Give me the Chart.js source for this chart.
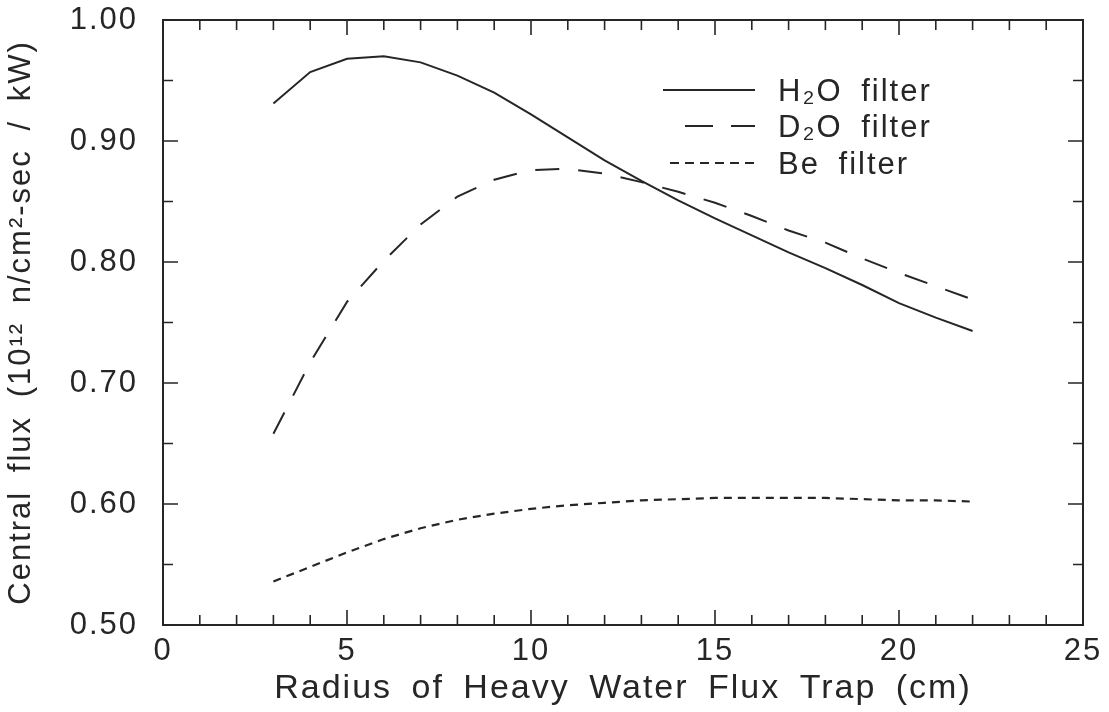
<!DOCTYPE html>
<html>
<head>
<meta charset="utf-8">
<script src="https://cdn.jsdelivr.net/npm/chart.js@4/dist/chart.umd.min.js"></script>
<style>
    html, body { margin: 0; padding: 0; background: #fff; }
</style>
</head>
<body>
<canvas id="fluxChart" width="1109" height="712"></canvas>
<script>
// 数据
const radius = [3, 4, 5, 6, 7, 8, 9, 10, 11, 12, 13, 14, 15, 16, 17, 18, 19, 20, 21, 22];
const h2oFilter = [0.931, 0.957, 0.968, 0.970, 0.965, 0.954, 0.940, 0.922, 0.903, 0.884, 0.867,
                   0.851, 0.836, 0.822, 0.808, 0.795, 0.781, 0.766, 0.754, 0.743];
const d2oFilter = [0.658, 0.717, 0.767, 0.801, 0.831, 0.854, 0.868, 0.876, 0.877, 0.873, 0.866,
                   0.858, 0.849, 0.838, 0.826, 0.816, 0.803, 0.791, 0.780, 0.769];
const beFilter  = [0.536, 0.548, 0.560, 0.571, 0.580, 0.587, 0.592, 0.596, 0.599, 0.601, 0.603,
                   0.604, 0.605, 0.605, 0.605, 0.605, 0.604, 0.603, 0.603, 0.602];
const seriesLabels = ['H₂O filter', 'D₂O filter', 'Be filter'];
const xTitle = 'Radius of Heavy Water Flux Trap (cm)';
const yTitle = 'Central flux (10¹² n/cm²-sec / kW)';

const ink = '#262626';
const fontFamily = '"Liberation Sans", Arial, sans-serif';

function toPoints(values) {
    return radius.map(function(r, i) { return { x: r, y: values[i] }; });
}

// 原图字体比较宽，加字距
const wideText = {
    id: 'wideText',
    beforeUpdate: function(chart) {
        chart.ctx.letterSpacing = '2px';
        chart.ctx.wordSpacing = '8px';
    },
    beforeDraw: function(chart) {
        chart.ctx.letterSpacing = '2px';
        chart.ctx.wordSpacing = '8px';
    }
};

// 边框和向内的刻度线
const frameTicks = {
    id: 'frameTicks',
    afterDatasetsDraw: function(chart) {
        const ctx = chart.ctx;
        const a = chart.chartArea;
        const xs = chart.scales.x;
        const ys = chart.scales.y;
        ctx.save();
        ctx.strokeStyle = ink;
        ctx.lineWidth = 2;
        ctx.strokeRect(a.left, a.top, a.right - a.left, a.bottom - a.top);
        ctx.lineWidth = 1.6;
        ctx.beginPath();
        for (let v = xs.min; v <= xs.max; v += 1) {
            const px = xs.getPixelForValue(v);
            const len = v % 5 === 0 ? 15 : 10;
            ctx.moveTo(px, a.bottom); ctx.lineTo(px, a.bottom - len);
            ctx.moveTo(px, a.top); ctx.lineTo(px, a.top + len);
        }
        for (let k = 0; k <= 10; k++) {
            const py = ys.getPixelForValue(ys.min + k * 0.05);
            const len = k % 2 === 0 ? 15 : 10;
            ctx.moveTo(a.left, py); ctx.lineTo(a.left + len, py);
            ctx.moveTo(a.right, py); ctx.lineTo(a.right - len, py);
        }
        ctx.stroke();
        ctx.restore();
    }
};

// 图内图例
const insideLegend = {
    id: 'insideLegend',
    afterDraw: function(chart) {
        const ctx = chart.ctx;
        const a = chart.chartArea;
        const x1 = a.left + 592, tx = a.left + 615;
        const rows = [a.top + 70, a.top + 106, a.top + 143];
        ctx.save();
        chart.data.datasets.forEach(function(ds, i) {
            ctx.strokeStyle = ink;
            ctx.lineWidth = 2;
            ctx.setLineDash(ds.legendDash);
            ctx.beginPath();
            ctx.moveTo(a.left + ds.legendStart, rows[i]);
            ctx.lineTo(x1, rows[i]);
            ctx.stroke();
            ctx.setLineDash([]);
            ctx.fillStyle = ink;
            ctx.font = '31px ' + fontFamily;
            ctx.textBaseline = 'middle';
            ctx.fillText(ds.label, tx, rows[i] + 2);
        });
        ctx.restore();
    }
};

new Chart(document.getElementById('fluxChart').getContext('2d'), {
    type: 'line',
    data: {
        datasets: [
            {
                label: seriesLabels[0],
                data: toPoints(h2oFilter),
                borderColor: ink,
                borderWidth: 2,
                legendDash: [],
                legendStart: 500
            },
            {
                label: seriesLabels[1],
                data: toPoints(d2oFilter),
                borderColor: ink,
                borderWidth: 2,
                borderDash: [24, 19],
                legendDash: [28, 18],
                legendStart: 522
            },
            {
                label: seriesLabels[2],
                data: toPoints(beFilter),
                borderColor: ink,
                borderWidth: 2.2,
                borderDash: [8, 6],
                legendDash: [9, 6],
                legendStart: 507
            }
        ]
    },
    options: {
        responsive: false,
        animation: false,
        devicePixelRatio: 1,
        layout: { padding: { top: 20, right: 26, left: 0, bottom: 0 } },
        elements: {
            point: { radius: 0 },
            line: { tension: 0, fill: false }
        },
        plugins: {
            legend: { display: false },
            tooltip: { enabled: false }
        },
        scales: {
            x: {
                type: 'linear',
                min: 0,
                max: 25,
                grid: { display: false },
                border: { display: false },
                ticks: {
                    stepSize: 5,
                    color: ink,
                    padding: 0,
                    maxRotation: 0,
                    font: { family: fontFamily, size: 31 }
                },
                title: {
                    display: true,
                    text: xTitle,
                    color: ink,
                    padding: { top: 0, bottom: 3 },
                    font: { family: fontFamily, size: 34 }
                },
                afterFit: function(scale) { scale.height = 87; }
            },
            y: {
                type: 'linear',
                min: 0.5,
                max: 1.0,
                grid: { display: false },
                border: { display: false },
                ticks: {
                    stepSize: 0.1,
                    color: ink,
                    padding: 17,
                    font: { family: fontFamily, size: 31 },
                    callback: function(v) { return v.toFixed(2); }
                },
                title: {
                    display: true,
                    text: yTitle,
                    color: ink,
                    padding: { top: 3, bottom: 0 },
                    font: { family: fontFamily, size: 31 }
                },
                afterFit: function(scale) {
                    scale.width = 163;
                    scale.paddingTop = 0;
                    scale.paddingBottom = 0;
                }
            }
        }
    },
    plugins: [wideText, frameTicks, insideLegend]
});
</script>
</body>
</html>
